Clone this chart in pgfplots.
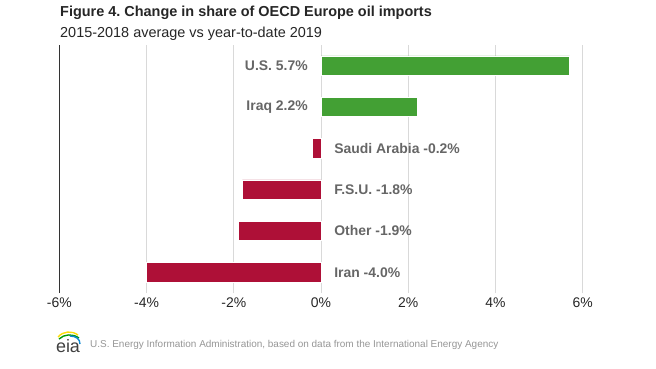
\documentclass[border=0pt]{standalone}
\usepackage{pgfplots}
\pgfplotsset{compat=1.18}
\usepackage{fontspec}
\setmainfont{Liberation Sans}
\frenchspacing
\definecolor{barGreen}{RGB}{67,160,52}
\definecolor{barRed}{RGB}{174,16,55}
\definecolor{lblGray}{RGB}{102,102,102}
\definecolor{gridGray}{RGB}{217,217,217}
\definecolor{footGray}{RGB}{150,150,150}
\begin{document}
\frenchspacing
\begin{tikzpicture}[x=1bp,y=1bp]
\path (0,0) rectangle (656,368);
\node[anchor=west,inner sep=0pt,font=\fontsize{14.5}{17}\selectfont\bfseries,text=black!85] at (60,355) {Figure 4. Change in share of OECD Europe oil imports};
\node[anchor=west,inner sep=0pt,font=\fontsize{14.5}{17}\selectfont,text=black!85] at (60,334.5) {2015-2018 average vs year-to-date 2019};
\begin{axis}[
  at={(59.3bp,75bp)}, anchor=south west,
  width=523.4bp, height=248bp, scale only axis,
  xbar, bar width=19.5bp, bar shift=0pt,
  xmin=-6, xmax=6, ymin=-0.5, ymax=5.5,
  axis line style={draw=none},
  ytick=\empty,
  xtick={-4,-2,0,2,4,6},
  extra x ticks={-6},
  extra x tick style={grid style={black!80, line width=0.8pt}},
  xmajorgrids, grid style={gridGray, line width=0.8pt},
  major tick length=0pt,
  xticklabel={\pgfmathprintnumber{\tick}\%},
  /pgf/number format/assume math mode=true,
  xticklabel style={font=\fontsize{14}{16}\selectfont, text=black!85, yshift=-1bp},
  clip=false,
]
\addplot[fill=barGreen, draw=white, line width=0.6pt] coordinates {(5.7,5) (2.2,4)};
\addplot[fill=barRed, draw=white, line width=0.6pt] coordinates {(-0.2,3) (-1.8,2) (-1.9,1) (-4.0,0)};
\begin{scope}[every node/.style={font=\fontsize{14}{16}\selectfont\bfseries, text=lblGray, inner sep=0pt}]
\node[anchor=east] at (axis cs:-0.3,5) {U.S. 5.7\%};
\node[anchor=east] at (axis cs:-0.3,4) {Iraq 2.2\%};
\node[anchor=west] at (axis cs:0.3,3) {Saudi Arabia -0.2\%};
\node[anchor=west] at (axis cs:0.3,2) {F.S.U. -1.8\%};
\node[anchor=west] at (axis cs:0.3,1) {Other -1.9\%};
\node[anchor=west] at (axis cs:0.3,0) {Iran -4.0\%};
\end{scope}
\end{axis}
% footer
\node[anchor=west,inner sep=0pt,font=\fontsize{10}{12}\selectfont,text=footGray] at (90,23) {U.S. Energy Information Administration, based on data from the International Energy Agency};
\node[inner sep=0pt,font=\fontsize{18}{18}\selectfont\rmfamily,text=black!75] at (68,22) {eia};
\draw[line width=1.4pt, yellow!80!orange] (58,31) .. controls (63,37) and (72,37.5) .. (78,33);
\draw[line width=1.4pt, green!60!black] (59,29) .. controls (64,34) and (73,34.5) .. (79,30);
\draw[line width=1.4pt, cyan!70!blue] (70,32) .. controls (76,32) and (80,29) .. (80,24);
\end{tikzpicture}
\end{document}
